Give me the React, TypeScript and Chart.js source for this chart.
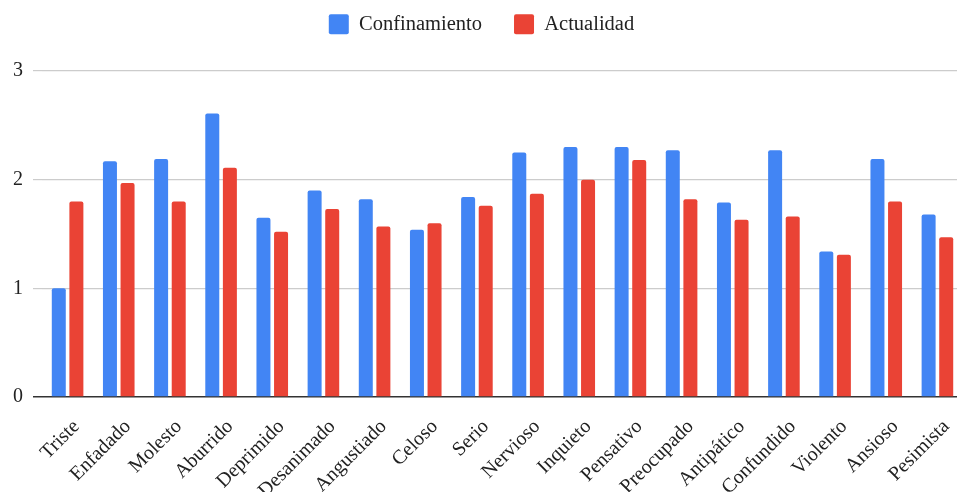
import React, { useEffect, useRef } from "react";
import { Chart, registerables } from "chart.js";

Chart.register(...registerables);

// Emotional states surveyed
const categories = [
  "Triste", "Enfadado", "Molesto", "Aburrido", "Deprimido", "Desanimado",
  "Angustiado", "Celoso", "Serio", "Nervioso", "Inquieto", "Pensativo",
  "Preocupado", "Antipático", "Confundido", "Violento", "Ansioso", "Pesimista",
];

// Mean score during lockdown
const confinamiento = [
  1.0, 2.17, 2.19, 2.61, 1.65, 1.9, 1.82, 1.54, 1.84,
  2.25, 2.3, 2.3, 2.27, 1.79, 2.27, 1.34, 2.19, 1.68,
];

// Mean score today
const actualidad = [
  1.8, 1.97, 1.8, 2.11, 1.52, 1.73, 1.57, 1.6, 1.76,
  1.87, 2.0, 2.18, 1.82, 1.63, 1.66, 1.31, 1.8, 1.47,
];

const yTicks = [0, 1, 2, 3];

const FONT = "'Liberation Serif', 'Times New Roman', serif";
const BLUE = "#4285F4";
const RED = "#EA4335";

// Pushes the plot area down below the legend
const legendSpacer = {
  id: "legendSpacer",
  beforeInit(chart: any) {
    const fit = chart.legend.fit;
    chart.legend.fit = function () {
      fit.call(this);
      this.height = 89;
    };
  },
};

export default function App() {
  const canvasRef = useRef<HTMLCanvasElement | null>(null);

  useEffect(() => {
    document.body.style.margin = "0";
    const canvas = canvasRef.current;
    if (!canvas) return;
    const chart = new Chart(canvas, {
      type: "bar",
      data: {
        labels: categories,
        datasets: [
          {
            label: "Confinamiento",
            data: confinamiento,
            backgroundColor: BLUE,
            borderWidth: 0,
            borderRadius: 2,
            categoryPercentage: 0.688,
            barPercentage: 0.795,
          },
          {
            label: "Actualidad",
            data: actualidad,
            backgroundColor: RED,
            borderWidth: 0,
            borderRadius: 2,
            categoryPercentage: 0.688,
            barPercentage: 0.795,
          },
        ],
      },
      options: {
        responsive: false,
        animation: false,
        layout: { padding: { top: -18, left: 0, right: 0, bottom: 0 } },
        plugins: {
          legend: {
            position: "top",
            align: "center",
            labels: {
              font: { family: FONT, size: 20.5 },
              color: "#222",
              boxWidth: 20,
              boxHeight: 20,
              padding: 32,
              useBorderRadius: true,
              borderRadius: 2,
            },
          },
          tooltip: { enabled: false },
        },
        scales: {
          x: {
            grid: { display: false, drawTicks: false },
            border: { display: false },
            ticks: {
              font: { family: FONT, size: 20 },
              color: "#222",
              minRotation: 45,
              maxRotation: 45,
              autoSkip: false,
              padding: 18,
              labelOffset: 9,
            },
            afterFit(scale: any) {
              scale.height = 95;
              scale.paddingLeft = 0;
              scale.paddingRight = 0;
            },
          },
          y: {
            min: 0,
            max: 3,
            border: { display: false },
            grid: {
              color: (ctx: any) => (ctx.tick && ctx.tick.value === 0 ? "#333" : "#cccccc"),
              lineWidth: (ctx: any) => (ctx.tick && ctx.tick.value === 0 ? 1.5 : 1.2),
              tickLength: 9,
            },
            afterBuildTicks(scale: any) {
              scale.ticks = yTicks.map((v) => ({ value: v }));
            },
            ticks: {
              font: { family: FONT, size: 20 },
              color: "#222",
              padding: 10,
            },
            afterFit(scale: any) {
              scale.width = 42;
            },
          },
        },
      },
      plugins: [legendSpacer],
    });
    return () => chart.destroy();
  }, []);

  return (
    <div style={{ width: 957, height: 492, overflow: "hidden", position: "relative" }}>
      <canvas ref={canvasRef} width={963} height={492} style={{ display: "block" }} />
    </div>
  );
}
